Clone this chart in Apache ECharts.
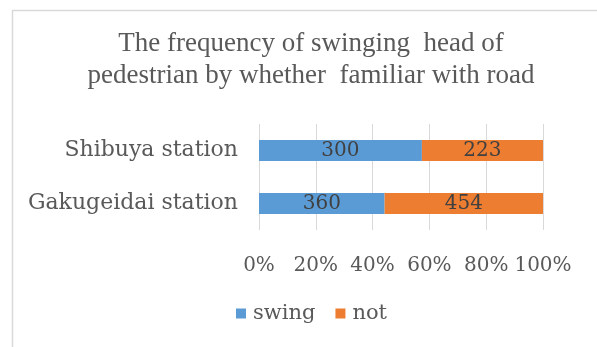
<!DOCTYPE html>
<html>
<head>
<meta charset="utf-8">
<script src="https://cdn.jsdelivr.net/npm/echarts@6/dist/echarts.min.js"></script>
<style>
  html, body { margin: 0; padding: 0; background: #ffffff; }
  #chart { width: 597px; height: 347px; }
</style>
</head>
<body>
<div id="chart"></div>
<script>
// Stations (bottom to top on the category axis)
const categories = ['Gakugeidai station', 'Shibuya station'];
// Counts of pedestrians swinging their head vs. not
const swingCounts = [360, 300];
const notCounts = [454, 223];
const seriesNames = ['swing', 'not'];
const tickLabels = ['0%', '20%', '40%', '60%', '80%', '100%'];

// 100% stacked: each bar is the share of its station total
const totals = categories.map((_, i) => swingCounts[i] + notCounts[i]);
const swingShare = swingCounts.map((v, i) => ({ value: v / totals[i], count: v }));
const notShare = notCounts.map((v, i) => ({ value: v / totals[i], count: v }));

const serifWide = 'DejaVu Serif';
const labelColor = '#595959';

const chart = echarts.init(document.getElementById('chart'), null, { renderer: 'canvas' });

const barLabel = {
  show: true,
  position: 'inside',
  fontFamily: serifWide,
  fontSize: 20,
  color: '#404040',
  formatter: p => String(p.data.count)
};

chart.setOption({
  animation: false,
  backgroundColor: '#ffffff',
  graphic: [{
    type: 'rect',
    left: 10, top: 8,
    shape: { width: 600, height: 360 },
    style: { fill: 'none', stroke: '#d9d9d9', lineWidth: 1.5 },
    silent: true
  }],
  title: {
    text: 'The frequency of swinging  head of\npedestrian by whether  familiar with road',
    left: 306,
    textAlign: 'center',
    top: 23,
    textStyle: {
      fontFamily: 'Liberation Serif',
      fontWeight: 'normal',
      fontSize: 27,
      lineHeight: 32,
      color: labelColor
    }
  },
  legend: {
    data: seriesNames,
    bottom: 18,
    left: 231,
    icon: 'rect',
    itemWidth: 10,
    itemHeight: 10,
    itemGap: 20,
    textStyle: { fontFamily: serifWide, fontSize: 21, color: labelColor, padding: [0, 0, 0, 2] }
  },
  grid: { left: 259, right: 54, top: 124, bottom: 117, containLabel: false },
  xAxis: {
    type: 'value',
    min: 0,
    max: 1,
    interval: 0.2,
    axisLine: { show: false },
    axisTick: { show: false },
    splitLine: { show: true, lineStyle: { color: '#d9d9d9', width: 1 } },
    axisLabel: {
      margin: 26,
      fontFamily: serifWide,
      fontSize: 20,
      color: labelColor,
      formatter: v => tickLabels[Math.round(v * 5)]
    }
  },
  yAxis: {
    type: 'category',
    data: categories,
    axisLine: { show: false },
    axisTick: { show: false },
    axisLabel: {
      margin: 21,
      fontFamily: serifWide,
      fontSize: 22,
      color: labelColor
    }
  },
  series: [
    {
      name: seriesNames[0],
      type: 'bar',
      stack: 'share',
      barWidth: 21,
      itemStyle: { color: '#5b9bd5' },
      label: barLabel,
      data: swingShare
    },
    {
      name: seriesNames[1],
      type: 'bar',
      stack: 'share',
      barWidth: 21,
      itemStyle: { color: '#ed7d31' },
      label: barLabel,
      data: notShare
    }
  ]
});
</script>
</body>
</html>
